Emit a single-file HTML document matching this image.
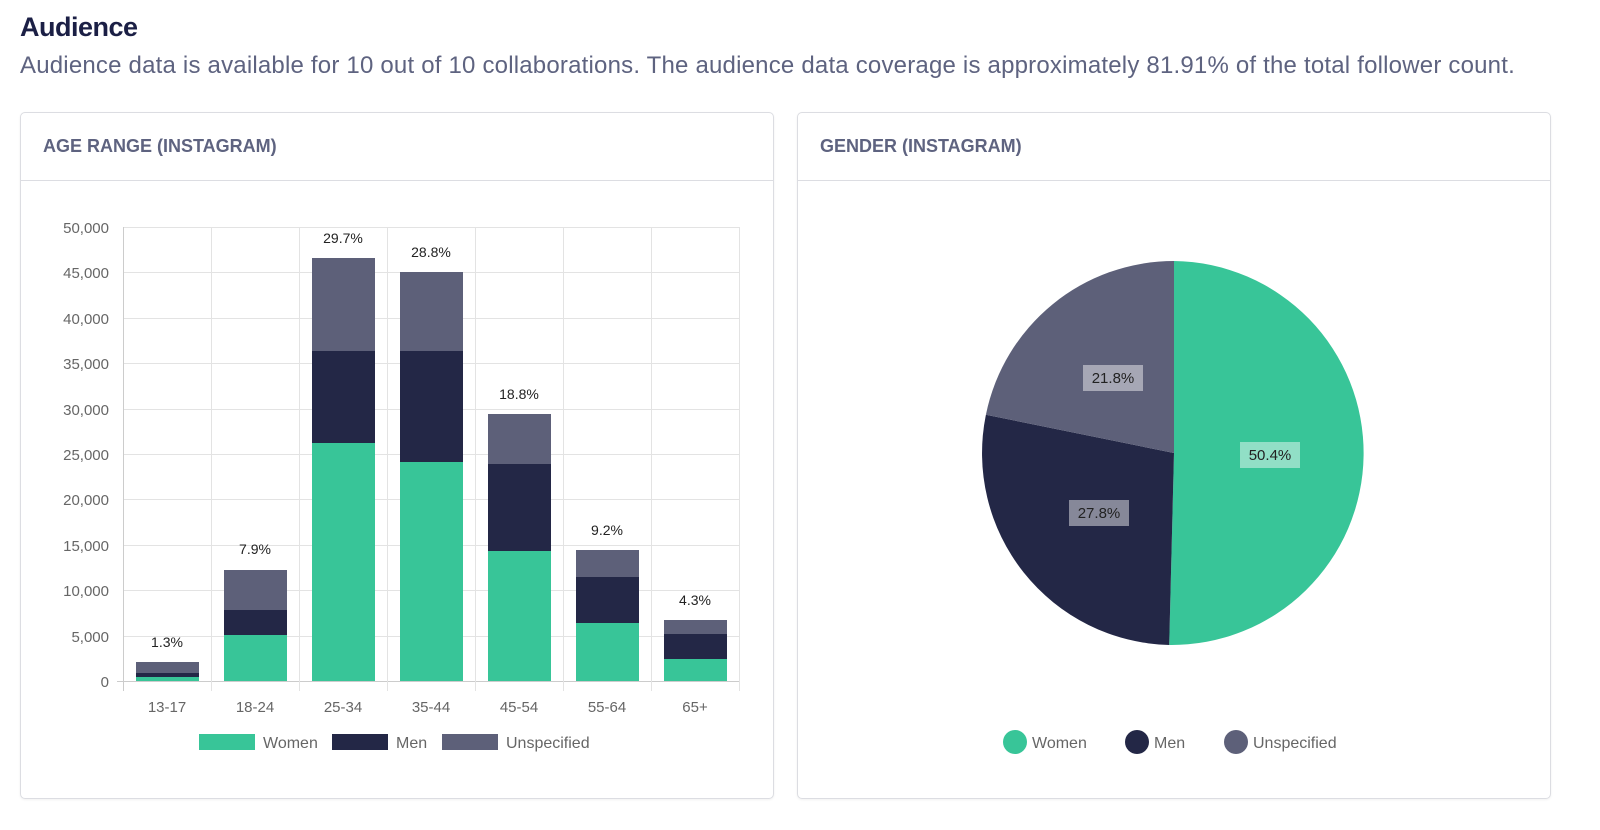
<!DOCTYPE html>
<html><head><meta charset="utf-8"><style>
body{margin:0;background:#fff;font-family:"Liberation Sans",sans-serif;width:1600px;height:830px;position:relative;overflow:hidden}
h1{position:absolute;left:20px;top:12px;margin:0;font-size:27px;font-weight:bold;color:#1b1f45;letter-spacing:-0.5px}
.sub{position:absolute;left:20px;top:52px;font-size:24px;letter-spacing:0.2px;color:#5e6380;white-space:nowrap}
.card{position:absolute;top:112px;height:685px;width:752px;border:1px solid #dcdde2;border-radius:5px;box-shadow:0 1px 2px rgba(0,0,0,.06)}
.card .hd{height:67px;border-bottom:1px solid #dcdde2;font-size:18px;font-weight:bold;color:#5e6380;padding-left:22px;line-height:67px}
svg{position:absolute;left:0;top:0}
</style></head><body>
<h1>Audience</h1>
<div class="sub">Audience data is available for 10 out of 10 collaborations. The audience data coverage is approximately 81.91% of the total follower count.</div>
<div class="card" style="left:20px"><div class="hd">AGE RANGE (INSTAGRAM)</div></div>
<div class="card" style="left:797px"><div class="hd">GENDER (INSTAGRAM)</div></div>
<svg width="1600" height="830" font-family="Liberation Sans, sans-serif">
<g stroke="#e3e3e3" stroke-width="1">
<line x1="123" x2="739" y1="227.5" y2="227.5"/><line x1="123" x2="739" y1="272.5" y2="272.5"/><line x1="123" x2="739" y1="318.5" y2="318.5"/><line x1="123" x2="739" y1="363.5" y2="363.5"/><line x1="123" x2="739" y1="409.5" y2="409.5"/><line x1="123" x2="739" y1="454.5" y2="454.5"/><line x1="123" x2="739" y1="499.5" y2="499.5"/><line x1="123" x2="739" y1="545.5" y2="545.5"/><line x1="123" x2="739" y1="590.5" y2="590.5"/><line x1="123" x2="739" y1="636.5" y2="636.5"/>
<line x1="117" x2="739" y1="681.5" y2="681.5" stroke="#ccc"/>
<line x1="123.5" x2="123.5" y1="227" y2="691" stroke="#ccc"/>
<line x1="211.5" x2="211.5" y1="227" y2="691"/><line x1="299.5" x2="299.5" y1="227" y2="691"/><line x1="387.5" x2="387.5" y1="227" y2="691"/><line x1="475.5" x2="475.5" y1="227" y2="691"/><line x1="563.5" x2="563.5" y1="227" y2="691"/><line x1="651.5" x2="651.5" y1="227" y2="691"/><line x1="739.5" x2="739.5" y1="227" y2="691"/>
</g>
<g font-size="15" fill="#666" text-anchor="end">
<text x="109" y="233">50,000</text><text x="109" y="278">45,000</text><text x="109" y="324">40,000</text><text x="109" y="369">35,000</text><text x="109" y="415">30,000</text><text x="109" y="460">25,000</text><text x="109" y="505">20,000</text><text x="109" y="551">15,000</text><text x="109" y="596">10,000</text><text x="109" y="642">5,000</text><text x="109" y="687">0</text>
</g>
<g font-size="15" fill="#666" text-anchor="middle">
<text x="167" y="712">13-17</text><text x="255" y="712">18-24</text><text x="343" y="712">25-34</text><text x="431" y="712">35-44</text><text x="519" y="712">45-54</text><text x="607" y="712">55-64</text><text x="695" y="712">65+</text>
</g>
<g>
<rect x="136" y="677" width="63" height="4" fill="#38c598"/><rect x="136" y="673" width="63" height="4" fill="#232746"/><rect x="136" y="662" width="63" height="11" fill="#5d6079"/>
<rect x="224" y="635" width="63" height="46" fill="#38c598"/><rect x="224" y="610" width="63" height="25" fill="#232746"/><rect x="224" y="570" width="63" height="40" fill="#5d6079"/>
<rect x="312" y="443" width="63" height="238" fill="#38c598"/><rect x="312" y="351" width="63" height="92" fill="#232746"/><rect x="312" y="258" width="63" height="93" fill="#5d6079"/>
<rect x="400" y="462" width="63" height="219" fill="#38c598"/><rect x="400" y="351" width="63" height="111" fill="#232746"/><rect x="400" y="272" width="63" height="79" fill="#5d6079"/>
<rect x="488" y="551" width="63" height="130" fill="#38c598"/><rect x="488" y="464" width="63" height="87" fill="#232746"/><rect x="488" y="414" width="63" height="50" fill="#5d6079"/>
<rect x="576" y="623" width="63" height="58" fill="#38c598"/><rect x="576" y="577" width="63" height="46" fill="#232746"/><rect x="576" y="550" width="63" height="27" fill="#5d6079"/>
<rect x="664" y="659" width="63" height="22" fill="#38c598"/><rect x="664" y="634" width="63" height="25" fill="#232746"/><rect x="664" y="620" width="63" height="14" fill="#5d6079"/>
</g>
<g font-size="14" fill="#222" text-anchor="middle">
<text x="167" y="647">1.3%</text><text x="255" y="554">7.9%</text><text x="343" y="243">29.7%</text><text x="431" y="257">28.8%</text><text x="519" y="399">18.8%</text><text x="607" y="535">9.2%</text><text x="695" y="605">4.3%</text>
</g>
<g font-size="16" fill="#666">
<rect x="199" y="734" width="56" height="16" fill="#38c598"/><text x="263" y="748">Women</text>
<rect x="332" y="734" width="56" height="16" fill="#232746"/><text x="396" y="748">Men</text>
<rect x="442" y="734" width="56" height="16" fill="#5d6079"/><text x="506" y="748">Unspecified</text>
</g>
<path d="M1174 453 L1174 261 A192 192 0 0 1 1169.2 645 Z" fill="#38c598"/>
<path d="M1174 453 L1169.2 645 A192 192 0 0 1 985.9 414.7 Z" fill="#232746"/>
<path d="M1174 453 L985.9 414.7 A192 192 0 0 1 1174 261 Z" fill="#5d6079"/>
<g font-size="15" fill="#222" text-anchor="middle">
<rect x="1240" y="442" width="60" height="26" fill="rgba(255,255,255,0.45)"/><text x="1270" y="460">50.4%</text>
<rect x="1069" y="500" width="60" height="26" fill="rgba(255,255,255,0.45)"/><text x="1099" y="518">27.8%</text>
<rect x="1083" y="365" width="60" height="26" fill="rgba(255,255,255,0.45)"/><text x="1113" y="383">21.8%</text>
</g>
<g font-size="16" fill="#666">
<circle cx="1015" cy="742" r="12" fill="#38c598"/><text x="1032" y="748">Women</text>
<circle cx="1137" cy="742" r="12" fill="#232746"/><text x="1154" y="748">Men</text>
<circle cx="1236" cy="742" r="12" fill="#5d6079"/><text x="1253" y="748">Unspecified</text>
</g>
</svg>
</body></html>
